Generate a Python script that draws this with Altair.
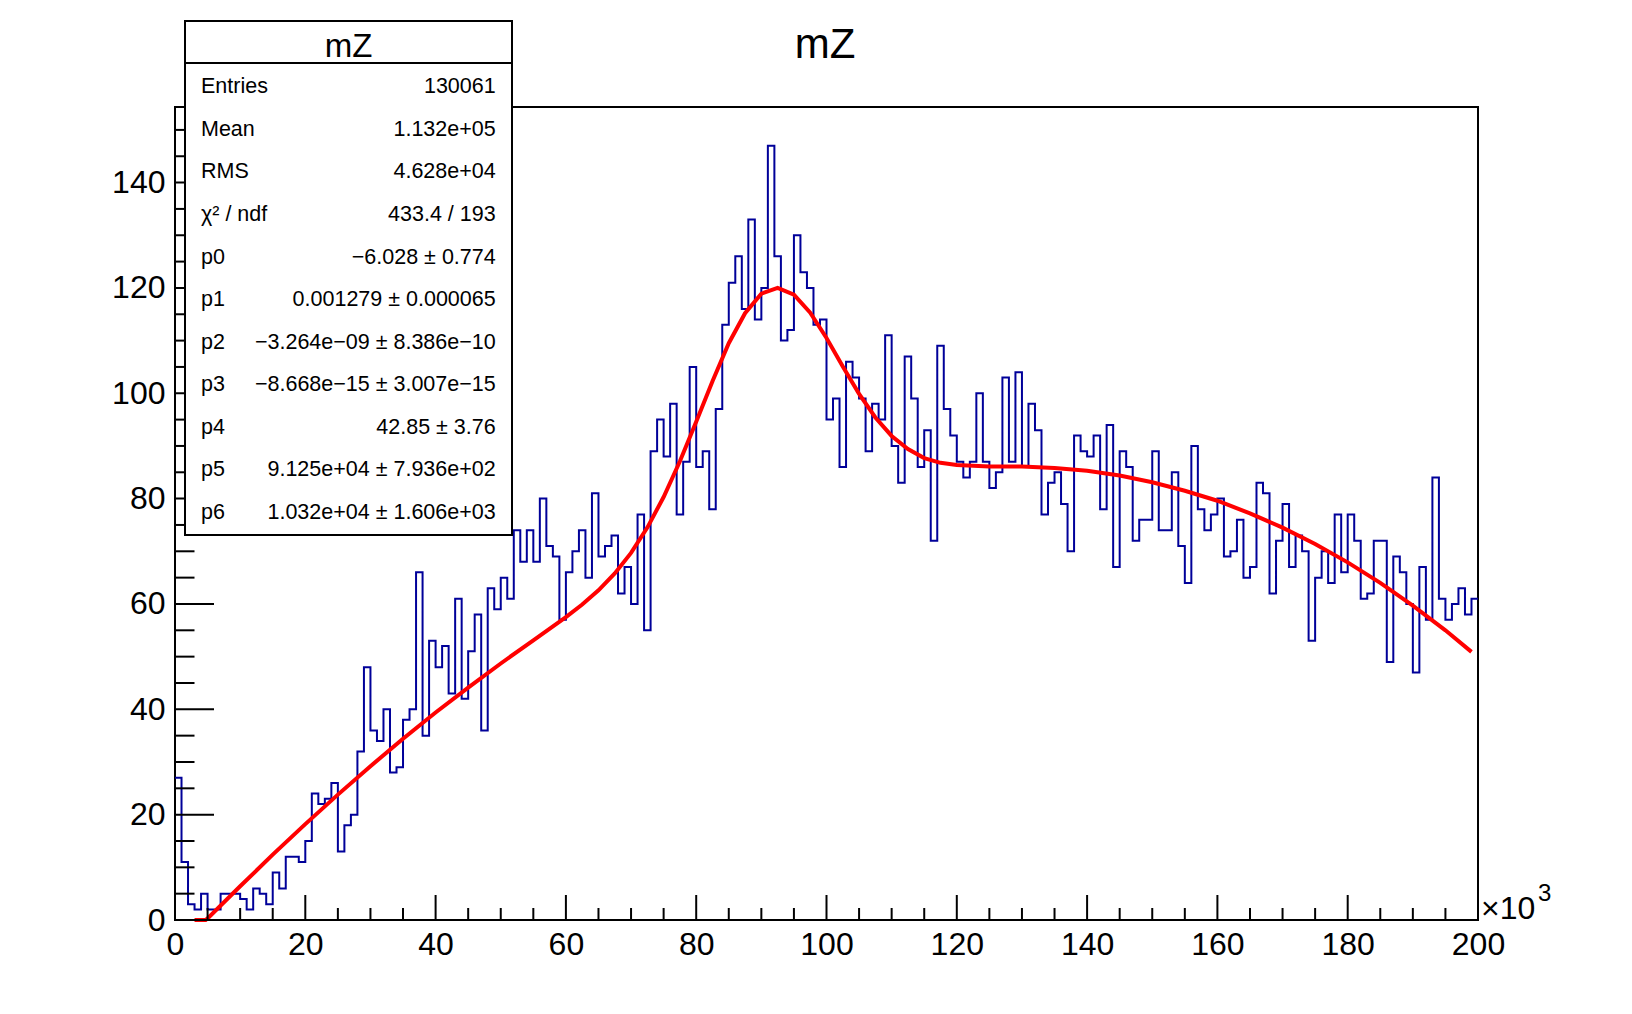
import altair as alt
import pandas as pd

FONT = "Liberation Sans"

# ---- histogram contents: 200 bins of width 1 (x10^3) from 0 to 200 ----
counts = [
    27, 11, 3, 2, 5, 2, 2, 5, 5, 5, 4, 2, 6, 5, 3, 9, 6, 12, 12, 11, 15, 24, 22, 23, 26, 13,
    18, 20, 32, 48, 36, 34, 40, 28, 29, 38, 40, 66, 35, 53, 48, 52, 43, 61, 42, 51, 58, 36, 63, 59, 65,
    61, 74, 68, 74, 68, 80, 71, 69, 57, 66, 70, 74, 65, 81, 69, 71, 73, 62, 67, 60, 77, 55, 89, 95, 88,
    98, 77, 87, 105, 86, 89, 78, 97, 113, 121, 126, 116, 133, 114, 120, 147, 126, 110, 112, 130, 123, 120, 113, 114, 95,
    99, 86, 106, 103, 99, 89, 98, 95, 111, 90, 83, 107, 99, 86, 93, 72, 109, 97, 92, 87, 84, 87, 100, 87, 82,
    85, 103, 87, 104, 86, 98, 93, 77, 83, 85, 79, 70, 92, 89, 88, 92, 78, 94, 67, 89, 86, 72, 76, 76, 89,
    74, 74, 85, 71, 64, 90, 78, 74, 77, 80, 69, 70, 76, 65, 67, 83, 81, 62, 72, 79, 67, 73, 70, 53, 65,
    70, 64, 77, 66, 77, 72, 61, 62, 72, 72, 49, 69, 66, 60, 47, 67, 57, 84, 61, 57, 60, 63, 58, 61,
]

# ---- fit curve ----
fit_x = [3, 4.7, 5, 10, 15, 20, 25, 30, 35, 40, 45, 50, 55, 60, 62.5, 65, 67.5, 70, 72.5, 75,
         77.5, 80, 82.5, 85, 87.5, 90, 92.5, 95, 97.5, 100, 102.5, 105, 107.5, 110, 112.5, 115,
         117.5, 120, 125, 130, 135, 140, 145, 150, 155, 160, 165, 170, 175, 180, 185, 190, 195, 199]
fit_y = [0, 0, 0.3, 6.4, 12.4, 18.2, 23.8, 29.2, 34.4, 39.4, 44.1, 48.7, 53.1, 57.5, 59.9, 62.6,
         65.8, 69.7, 74.5, 80.3, 87.1, 94.6, 102.3, 109.5, 115.2, 118.9, 120.0, 118.7, 115.3, 110.5,
         105.1, 99.9, 95.4, 91.9, 89.4, 87.7, 86.8, 86.4, 86.1, 86.1, 85.8, 85.3, 84.4, 83.1, 81.5,
         79.6, 77.2, 74.5, 71.4, 67.9, 64.0, 59.7, 55.0, 50.9]

x_labels = [0, 20, 40, 60, 80, 100, 120, 140, 160, 180, 200]
y_labels = [0, 20, 40, 60, 80, 100, 120, 140]

title_text = "mZ"
stat_names = ["Entries", "Mean", "RMS", "χ² / ndf", "p0", "p1", "p2", "p3", "p4", "p5", "p6"]
stat_values = ["130061", "1.132e+05", "4.628e+04", "433.4 / 193",
               "−6.028 ± 0.774", "0.001279 ± 0.000065",
               "−3.264e−09 ± 8.386e−10", "−8.668e−15 ± 3.007e−15",
               "42.85 ± 3.76", "9.125e+04 ± 7.936e+02", "1.032e+04 ± 1.606e+03"]

# ---- geometry ----
W, H = 1303, 813
XMAX = 200
YMAX = 154.35

xs = alt.Scale(domain=[0, XMAX], nice=False, zero=False)
ys = alt.Scale(domain=[0, YMAX], nice=False, zero=False)

x_axis = alt.Axis(values=x_labels, ticks=False, domain=False, grid=False,
                  labelFont=FONT, labelFontSize=32, labelColor="black",
                  labelPadding=9, labelFlush=False, labelOverlap=False, title="")
y_axis = alt.Axis(values=y_labels, ticks=False, domain=False, grid=False,
                  labelFont=FONT, labelFontSize=32, labelColor="black",
                  labelPadding=10, labelOverlap=False, title="")

hist_df = pd.DataFrame({"x": list(range(len(counts) + 1)), "y": counts + [counts[-1]]})
hist = alt.Chart(hist_df).mark_line(interpolate="step-after", color="#000099", strokeWidth=2).encode(
    x=alt.X("x:Q", scale=xs, axis=x_axis),
    y=alt.Y("y:Q", scale=ys, axis=y_axis),
)

fit_df = pd.DataFrame({"x": fit_x, "y": fit_y})
fit = alt.Chart(fit_df).mark_line(color="#ff0000", strokeWidth=4).encode(
    x=alt.X("x:Q", scale=xs, axis=x_axis),
    y=alt.Y("y:Q", scale=ys, axis=y_axis),
)

# ---- inward ticks (ROOT style) ----
y_major = [v for v in range(0, 155, 20)]
y_minor = [v for v in range(5, 155, 5) if v % 20 != 0]
x_major = [v for v in range(20, 201, 20)]
x_minor = [v for v in range(5, 200, 5) if v % 20 != 0]


def ytick(vals, length):
    return alt.Chart(pd.DataFrame({"v": vals})).mark_rule(color="black", strokeWidth=2).encode(
        y=alt.Y("v:Q", scale=ys, axis=y_axis), x=alt.value(0), x2=alt.value(length))


def xtick(vals, length):
    return alt.Chart(pd.DataFrame({"v": vals})).mark_rule(color="black", strokeWidth=2).encode(
        x=alt.X("v:Q", scale=xs, axis=x_axis), y=alt.value(H), y2=alt.value(H - length))


one = pd.DataFrame({"a": [0]})


def text(txt, x, y, size, align="left", baseline="alphabetic"):
    return alt.Chart(pd.DataFrame({"t": [txt]})).mark_text(
        align=align, baseline=baseline, fontSize=size, font=FONT, color="black"
    ).encode(text="t:N", x=alt.value(x), y=alt.value(y))


# ---- stats box ----
BOX_L, BOX_R, BOX_T, BOX_B = 10, 337, -86, 428
box = alt.Chart(one).mark_rect(fill="white", stroke="black", strokeWidth=2).encode(
    x=alt.value(BOX_L), x2=alt.value(BOX_R), y=alt.value(BOX_T), y2=alt.value(BOX_B))
box_sep = alt.Chart(one).mark_rule(color="black", strokeWidth=2).encode(
    x=alt.value(BOX_L), x2=alt.value(BOX_R), y=alt.value(-44))

layers = [hist, fit,
          ytick(y_major, 39), ytick(y_minor, 19.5),
          xtick(x_major, 25), xtick(x_minor, 12),
          box, box_sep,
          text(title_text, (BOX_L + BOX_R) / 2, -50.3, 33, align="center"),
          text(title_text, 650, -48.7, 42, align="center"),
          text("×10", 1306, 812, 32),
          text("3", 1363, 794, 24)]

ROW0, ROWSTEP = -13.7, 42.57
for i, (n, v) in enumerate(zip(stat_names, stat_values)):
    yb = ROW0 + i * ROWSTEP
    layers.append(text(n, 26, yb, 21.5, align="left"))
    layers.append(text(v, 320.7, yb, 21.5, align="right"))

chart = alt.layer(*layers).properties(
    width=W, height=H,
    padding={"left": 167, "top": 99, "right": 146, "bottom": 86},
    autosize=alt.AutoSizeParams(type="none"),
    background="white",
).configure_view(stroke="black", strokeWidth=2)

chart.save("out.html", embed_options={"renderer": "svg", "actions": False})
